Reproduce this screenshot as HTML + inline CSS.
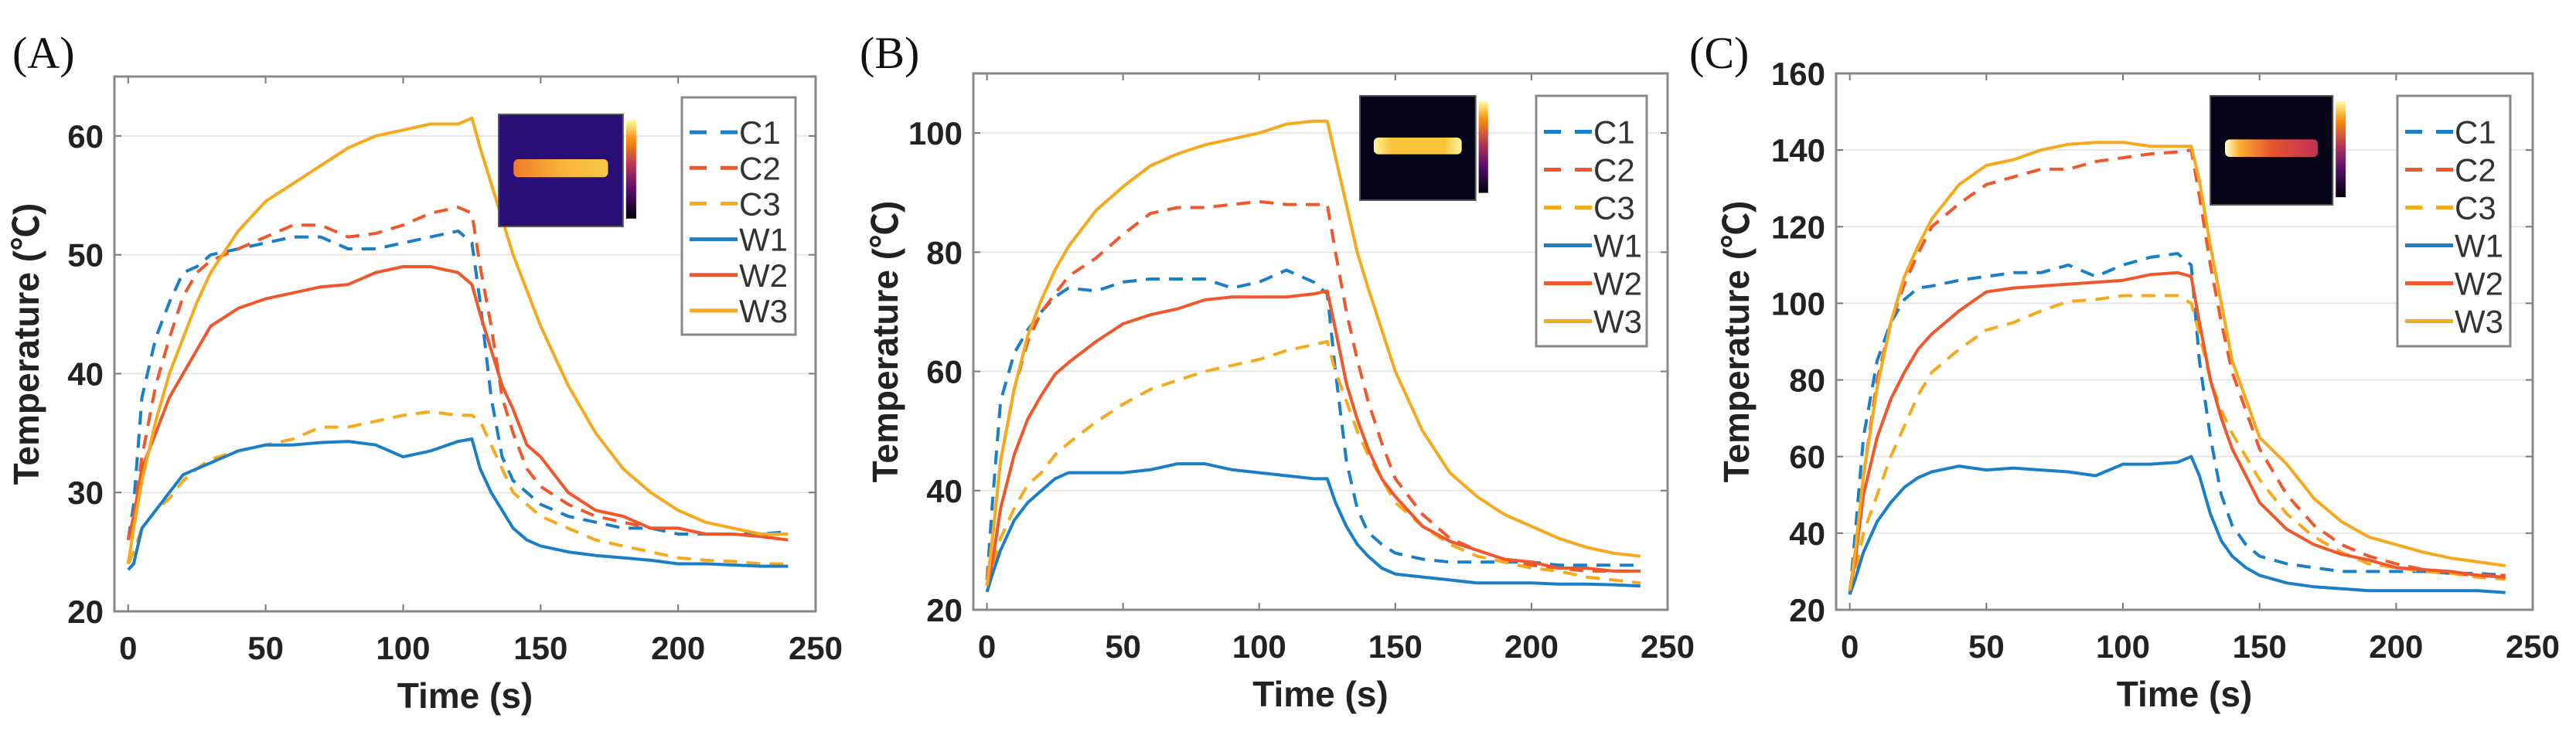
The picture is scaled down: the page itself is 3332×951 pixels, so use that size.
<!DOCTYPE html>
<html><head><meta charset="utf-8"><style>
html,body{margin:0;padding:0;background:#fff;}
svg{display:block;}
</style></head><body>
<svg id="fig" width="3332" height="951" xmlns="http://www.w3.org/2000/svg">
<defs>
<linearGradient id="cbar" x1="0" y1="1" x2="0" y2="0">
<stop offset="0" stop-color="#000004"/><stop offset="0.3" stop-color="#56106e"/><stop offset="0.55" stop-color="#bb3754"/><stop offset="0.8" stop-color="#f98e09"/><stop offset="1" stop-color="#fcffa4"/>
</linearGradient>
<linearGradient id="barA" x1="0" y1="0" x2="1" y2="0"><stop offset="0" stop-color="#f07a2a"/><stop offset="0.5" stop-color="#f9b23a"/><stop offset="1" stop-color="#f8c84a"/></linearGradient>
<linearGradient id="barB" x1="0" y1="0" x2="1" y2="0"><stop offset="0" stop-color="#fff6a0"/><stop offset="0.2" stop-color="#fbc33a"/><stop offset="0.8" stop-color="#fbc33a"/><stop offset="1" stop-color="#fff6a0"/></linearGradient>
<linearGradient id="barC" x1="0" y1="0" x2="1" y2="0"><stop offset="0" stop-color="#ffffd0"/><stop offset="0.15" stop-color="#fbb030"/><stop offset="0.5" stop-color="#e8552e"/><stop offset="1" stop-color="#c03058"/></linearGradient>
</defs>
</svg>
<script>
const times=[0,2,5,10,15,20,25,30,40,50,60,70,80,90,100,110,120,125,128,132,136,140,145,150,160,170,180,190,200,210,220,230,240];
const xTicks=[0,50,100,150,200,250];
const seriesNames=["C1","C2","C3","W1","W2","W3"];
// Panel A
const aC1=[26,29,38,43,46,48.5,49,50,50.5,51,51.5,51.5,50.5,50.5,51,51.5,52,51,46,38,33,31,30,29,28,27.5,27,27,26.5,26.5,26.5,26.5,26.7];
const aC2=[26,28,33,39,43,46.5,48.5,49.5,50.5,51.5,52.5,52.5,51.5,51.8,52.5,53.5,54,53.5,49,44,38,35,32,30.5,29,28,27.5,27,27,26.5,26.5,26.3,26];
const aC3=[24,25,27,28.5,29.5,31,32,32.8,33.5,34,34.5,35.5,35.5,36,36.5,36.8,36.5,36.5,36,34,32,30,29,28,27,26,25.5,25,24.5,24.3,24.2,24,24];
const aW1=[23.5,24,27,28.5,30,31.5,32,32.5,33.5,34,34,34.2,34.3,34,33,33.5,34.3,34.5,32,30,28.5,27,26,25.5,25,24.7,24.5,24.3,24,24,23.9,23.8,23.8];
const aW2=[26,28,32,35,38,40,42,44,45.5,46.3,46.8,47.3,47.5,48.5,49,49,48.5,47.5,45,42,39,37,34,33,30,28.5,28,27,27,26.5,26.5,26.3,26];
const aW3=[24,27,31,36,40,43,46,48.5,52,54.5,56,57.5,59,60,60.5,61,61,61.5,59,56,53,50,47,44,39,35,32,30,28.5,27.5,27,26.5,26.5];
const aYTicks=[20,30,40,50,60];
// Panel B
const bC1=[25,38,55,63,67,70,72.5,74,73.5,75,75.5,75.5,75.5,74,75,77,75,73,60,45,37,33,31,29.5,28.5,28,28,28,28,27.5,27.5,27.5,27.5];
const bC2=[25,32,45,57,65,70,73,76,79,83,86.5,87.5,87.5,88,88.5,88,88,88,80,70,62,55,48,42,36,32,30,28.5,27.5,27,26.5,26.5,26.5];
const bC3=[24,27,32,37,41,43,46,48,51.5,54.5,57,58.5,60,61,62,63.5,64.5,65,60,55,50,46,42,38,34,31,29,28,27,26.5,25.5,25,24.5];
const bW1=[23,26,30,35,38,40,42,43,43,43,43.5,44.5,44.5,43.5,43,42.5,42,42,38,34,31,29,27,26,25.5,25,24.5,24.5,24.5,24.3,24.3,24.2,24];
const bW2=[24,28,37,46,52,56,59.5,61.5,65,68,69.5,70.5,72,72.5,72.5,72.5,73,73.5,67,58,52,47,42,39,34,31.5,30,28.5,28,27,27,26.5,26.5];
const bW3=[24,32,45,57,66,72,77,81,87,91,94.5,96.5,98,99,100,101.5,102,102,96,88,80,74,67,60,50,43,39,36,34,32,30.5,29.5,29];
const bYTicks=[20,40,60,80,100];
// Panel C
const cC1=[24,40,65,85,95,101,104,104.5,106,107,108,108,110,107,110,112,113,110,85,65,50,42,37,34,32,31,30,30,30,30,29.5,29.5,29];
const cC2=[25,35,55,80,95,105,113,120,126,131,133,135,135,137,138,139,139.5,140,128,110,95,82,72,62,50,42,37,34,32,30.5,29.5,29,29];
const cC3=[25,30,40,50,60,68,76,82,88,93,95,98,100.5,101,102,102,102,100,92,80,72,66,60,54,45,39,35,32,31,30,29.5,28.5,28];
const cW1=[24,28,35,43,48,52,54.5,56,57.5,56.5,57,56.5,56,55,58,58,58.5,60,55,45,38,34,31,29,27,26,25.5,25,25,25,25,25,24.5];
const cW2=[25,33,50,65,75,82,88,92,98,103,104,104.5,105,105.5,106,107.5,108,107,95,80,70,62,55,48,41,37,34.5,33,31,30.5,30,29,28.5];
const cW3=[25,35,55,78,95,107,115,122,131,136,137.5,140,141.5,142,142,141,141,141,132,115,100,85,75,65,58,49,43,39,37,35,33.5,32.5,31.5];
const cYTicks=[20,40,60,80,100,120,140,160];

const NS="http://www.w3.org/2000/svg";
const svg=document.getElementById('fig');
function mk(tag,attrs,parent){const e=document.createElementNS(NS,tag);for(const k in attrs)e.setAttribute(k,attrs[k]);(parent||svg).appendChild(e);return e;}
const colors={C1:"#1a7fc6",C2:"#f0582c",C3:"#f6a91c",W1:"#1a7fc6",W2:"#f0582c",W3:"#f6a91c"};
const panels=[
 {key:"A",label:"(A)",lx:16,L:148,R:1055,T:99,B:791,x0:-5,ymin:20,ymax:65,yt:aYTicks,data:[aC1,aC2,aC3,aW1,aW2,aW3],
  leg:[882,126,147,307],ins:[645,148,187,145],bar:"url(#barA)",bg:"#2a0e78"},
 {key:"B",label:"(B)",lx:1112,L:1259,R:2157,T:95,B:789,x0:-5,ymin:20,ymax:110,yt:bYTicks,data:[bC1,bC2,bC3,bW1,bW2,bW3],
  leg:[1987,124,143,324],ins:[1759,124,174,135],bar:"url(#barB)",bg:"#050318"},
 {key:"C",label:"(C)",lx:2185,L:2375,R:3276,T:95,B:789,x0:-5,ymin:20,ymax:160,yt:cYTicks,data:[cC1,cC2,cC3,cW1,cW2,cW3],
  leg:[3101,124,146,324],ins:[2859,124,184,141],bar:"url(#barC)",bg:"#050318"}
];
panels.forEach(p=>{
 const g=mk('g',{});
 
 
 const xs=v=>p.L+(v-p.x0)/(250-p.x0)*(p.R-p.L);
 const ys=v=>p.B-(v-p.ymin)/(p.ymax-p.ymin)*(p.B-p.T);
 const pl=mk('text',{x:p.lx,y:88,'font-family':'"Liberation Serif",serif','font-size':58,fill:'#111'},g);pl.textContent=p.label;
 
 
 mk('rect',{x:p.L,y:p.T,width:p.R-p.L,height:p.B-p.T,fill:'#fff'},g);
 p.yt.forEach(v=>{
  const y=ys(v);
  if(v>p.ymin&&v<p.ymax){const gl=mk('line',{x1:p.L,x2:p.R,y1:y,y2:y,stroke:'#e6e6e6','stroke-width':2},g);
   
   }
  mk('line',{x1:p.L,x2:p.L+9,y1:y,y2:y,stroke:'#777','stroke-width':2},g);
  mk('line',{x1:p.R,x2:p.R-9,y1:y,y2:y,stroke:'#777','stroke-width':2},g);
  const t=mk('text',{x:p.L-14,y:y+15,'text-anchor':'end','font-family':'"Liberation Sans",sans-serif','font-size':42,'font-weight':'bold',fill:'#222'},g);t.textContent=v;
  
  
 });
 xTicks.forEach(v=>{
  const x=xs(v);
  mk('line',{x1:x,x2:x,y1:p.B,y2:p.B-9,stroke:'#777','stroke-width':2},g);
  mk('line',{x1:x,x2:x,y1:p.T,y2:p.T+9,stroke:'#777','stroke-width':2},g);
  const t=mk('text',{x:x,y:p.B+62,'text-anchor':'middle','font-family':'"Liberation Sans",sans-serif','font-size':42,'font-weight':'bold',fill:'#222'},g);t.textContent=v;
  
  
 });
 const xt=mk('text',{x:(p.L+p.R)/2,y:p.B+125,'text-anchor':'middle','font-family':'"Liberation Sans",sans-serif','font-size':46,'font-weight':'bold',fill:'#222'},g);xt.textContent='Time (s)';
 
 
 const cy=(p.T+p.B)/2;
 const yt=mk('text',{x:p.L-(p.key==="A"?98:(p.key==="B"?98:113)),y:cy,'text-anchor':'middle','font-family':'"Liberation Sans","Noto Sans CJK SC",sans-serif','font-size':46,'font-weight':'bold',fill:'#222',transform:`rotate(-90 ${p.L-(p.key==="A"?98:(p.key==="B"?98:113))} ${cy})`},g);
 yt.textContent='Temperature (℃)';
 
 
 // series
 p.data.forEach((arr,i)=>{
  const name=seriesNames[i];
  const pts=arr.map((v,j)=>xs(times[j]).toFixed(1)+','+ys(v).toFixed(1)).join(' ');
  const ln=mk('polyline',{points:pts,fill:'none',stroke:colors[name],'stroke-width':4,'stroke-linejoin':'round','stroke-dasharray':name[0]==='C'?'18 12':'none'},g);
  
  
 });
 mk('rect',{x:p.L,y:p.T,width:p.R-p.L,height:p.B-p.T,fill:'none',stroke:'#888','stroke-width':3},g);
 // inset
 const [ix,iy,iw,ih]=p.ins;
 const ins=mk('g',{},g);
 
 
 const hw=iw*0.86;
 mk('rect',{x:ix,y:iy,width:hw,height:ih,fill:p.bg,stroke:'#555','stroke-width':2},ins);
 mk('rect',{x:ix+hw*0.12,y:iy+ih*0.4,width:hw*0.76,height:ih*0.16,rx:6,fill:p.bar},ins);
 mk('rect',{x:ix+hw+4,y:iy+ih*0.05,width:iw*0.07,height:ih*0.88,fill:'url(#cbar)'},ins);
 // legend
 const [lx,ly,lw,lh]=p.leg;
 const lg=mk('g',{},g);
 
 
 mk('rect',{x:lx,y:ly,width:lw,height:lh,fill:'#fff',stroke:'#888','stroke-width':3},lg);
 const step=(lh-30)/6;
 seriesNames.forEach((n,i)=>{
  const y=ly+30+step*(i+0.5)-8;
  const e=mk('g',{},lg);
  
  
  mk('line',{x1:lx+10,x2:lx+72,y1:y,y2:y,stroke:colors[n],'stroke-width':5,'stroke-dasharray':n[0]==='C'?'22 18':'none'},e);
  const t=mk('text',{x:lx+74,y:y+15,'font-family':'"Liberation Sans",sans-serif','font-size':42,fill:'#333'},e);t.textContent=n;
 });
});
</script>
</body></html>
